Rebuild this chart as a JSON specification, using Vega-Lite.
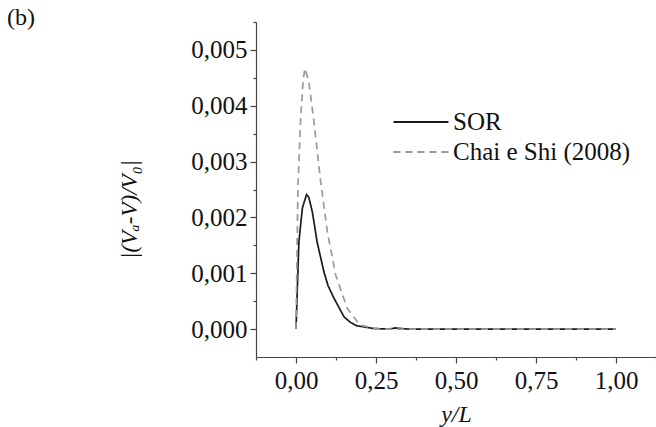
{
  "$schema": "https://vega.github.io/schema/vega-lite/v6.json",
  "width": 400,
  "height": 335,
  "autosize": {"type": "none"},
  "padding": {"left": 256, "top": 22, "right": 0, "bottom": 70},
  "background": "white",
  "title": {"text": "(b)", "anchor": "start", "frame": "group", "dx": -249, "dy": 39, "offset": 0, "baseline": "alphabetic", "font": "Liberation Serif", "fontSize": 24, "fontWeight": "normal", "color": "#111"},
  "config": {
    "view": {"stroke": null},
    "font": "Liberation Serif",
    "axis": {"labelFont": "Liberation Serif", "titleFont": "Liberation Serif"},
    "legend": {"labelFont": "Liberation Serif", "titleFont": "Liberation Serif"}
  },
  "data": {"values": [
    {"series": "SOR", "x": 0.0, "y": 0.0},
    {"series": "SOR", "x": 0.009, "y": 0.00156},
    {"series": "SOR", "x": 0.02, "y": 0.00217},
    {"series": "SOR", "x": 0.033, "y": 0.00241},
    {"series": "SOR", "x": 0.04, "y": 0.00236},
    {"series": "SOR", "x": 0.051, "y": 0.0021},
    {"series": "SOR", "x": 0.066, "y": 0.00156},
    {"series": "SOR", "x": 0.087, "y": 0.00103},
    {"series": "SOR", "x": 0.1, "y": 0.00078},
    {"series": "SOR", "x": 0.118, "y": 0.00056},
    {"series": "SOR", "x": 0.15, "y": 0.00022},
    {"series": "SOR", "x": 0.17, "y": 0.00012},
    {"series": "SOR", "x": 0.19, "y": 0.00006},
    {"series": "SOR", "x": 0.243, "y": 0.00001},
    {"series": "SOR", "x": 0.29, "y": 0.0},
    {"series": "SOR", "x": 0.31, "y": 0.00002},
    {"series": "SOR", "x": 0.35, "y": 0.0},
    {"series": "SOR", "x": 0.5, "y": 0.0},
    {"series": "SOR", "x": 0.75, "y": 0.0},
    {"series": "SOR", "x": 1.0, "y": 0.0},
    {"series": "Chai e Shi (2008)", "x": 0.0, "y": 0.0},
    {"series": "Chai e Shi (2008)", "x": 0.006, "y": 0.00253},
    {"series": "Chai e Shi (2008)", "x": 0.015, "y": 0.00384},
    {"series": "Chai e Shi (2008)", "x": 0.023, "y": 0.00449},
    {"series": "Chai e Shi (2008)", "x": 0.028, "y": 0.00467},
    {"series": "Chai e Shi (2008)", "x": 0.04, "y": 0.00443},
    {"series": "Chai e Shi (2008)", "x": 0.056, "y": 0.00372},
    {"series": "Chai e Shi (2008)", "x": 0.077, "y": 0.00264},
    {"series": "Chai e Shi (2008)", "x": 0.098, "y": 0.00174},
    {"series": "Chai e Shi (2008)", "x": 0.124, "y": 0.00097},
    {"series": "Chai e Shi (2008)", "x": 0.16, "y": 0.00037},
    {"series": "Chai e Shi (2008)", "x": 0.2, "y": 0.00007},
    {"series": "Chai e Shi (2008)", "x": 0.26, "y": 0.0},
    {"series": "Chai e Shi (2008)", "x": 0.5, "y": 0.0},
    {"series": "Chai e Shi (2008)", "x": 0.75, "y": 0.0},
    {"series": "Chai e Shi (2008)", "x": 1.0, "y": 0.0}
  ]},
  "mark": {"type": "line", "strokeWidth": 1.7, "clip": true},
  "encoding": {
    "x": {
      "field": "x", "type": "quantitative",
      "scale": {"domain": [-0.125, 1.125], "nice": false, "zero": false},
      "axis": {
        "values": [-0.125, 0, 0.125, 0.25, 0.375, 0.5, 0.625, 0.75, 0.875, 1.0, 1.125],
        "labelExpr": "abs(datum.value*4 - round(datum.value*4)) < 1e-6 ? replace(format(datum.value, '.2f'), '.', ',') : ''",
        "tickSize": {"condition": {"test": "abs(datum.value*4 - round(datum.value*4)) < 1e-6", "value": 6}, "value": 3},
        "grid": false,
        "domainColor": "#444", "tickColor": "#444", "domainWidth": 1.2, "tickWidth": 1.2,
        "labelFont": "Liberation Serif", "labelFontSize": 25, "labelColor": "#111", "labelPadding": 5,
        "labelFlush": false, "labelOverlap": false,
        "title": "y/L", "titleFont": "Liberation Serif", "titleFontSize": 24, "titleFontStyle": "italic", "titleFontWeight": "normal", "titleColor": "#111", "titlePadding": 9
      }
    },
    "y": {
      "field": "y", "type": "quantitative",
      "scale": {"domain": [-0.0005, 0.0055], "nice": false, "zero": false},
      "axis": {
        "values": [0, 0.0005, 0.001, 0.0015, 0.002, 0.0025, 0.003, 0.0035, 0.004, 0.0045, 0.005, 0.0055],
        "labelExpr": "abs(datum.value*1000 - round(datum.value*1000)) < 1e-6 ? replace(format(datum.value, '.3f'), '.', ',') : ''",
        "tickSize": {"condition": {"test": "abs(datum.value*1000 - round(datum.value*1000)) < 1e-6", "value": 6}, "value": 3},
        "grid": false,
        "domainColor": "#444", "tickColor": "#444", "domainWidth": 1.2, "tickWidth": 1.2,
        "labelFont": "Liberation Serif", "labelFontSize": 25, "labelColor": "#111", "labelPadding": 3,
        "labelFlush": false, "labelOverlap": false,
        "title": "|(Vₐ-V)/V₀|", "titleFont": "Liberation Serif", "titleFontSize": 23, "titleFontStyle": "italic", "titleFontWeight": "normal", "titleColor": "#111",
        "titleX": -115, "titleY": 187, "titleAnchor": "middle"
      }
    },
    "color": {
      "field": "series", "type": "nominal",
      "scale": {"domain": ["SOR", "Chai e Shi (2008)"], "range": ["#1a1a1a", "#9a9a9a"]},
      "legend": {
        "orient": "none", "legendX": 150, "legendY": 85,
        "title": null, "symbolType": "M-2,0H2", "symbolSize": 756, "symbolStrokeWidth": 1.8, "symbolFillColor": "transparent",
        "labelFont": "Liberation Serif", "labelFontSize": 25, "labelColor": "#111", "labelOffset": 17, "labelLimit": 400,
        "rowPadding": 2
      }
    },
    "strokeDash": {
      "field": "series", "type": "nominal",
      "scale": {"domain": ["SOR", "Chai e Shi (2008)"], "range": [[1, 0], [7, 5]]},
      "legend": null
    }
  }
}
